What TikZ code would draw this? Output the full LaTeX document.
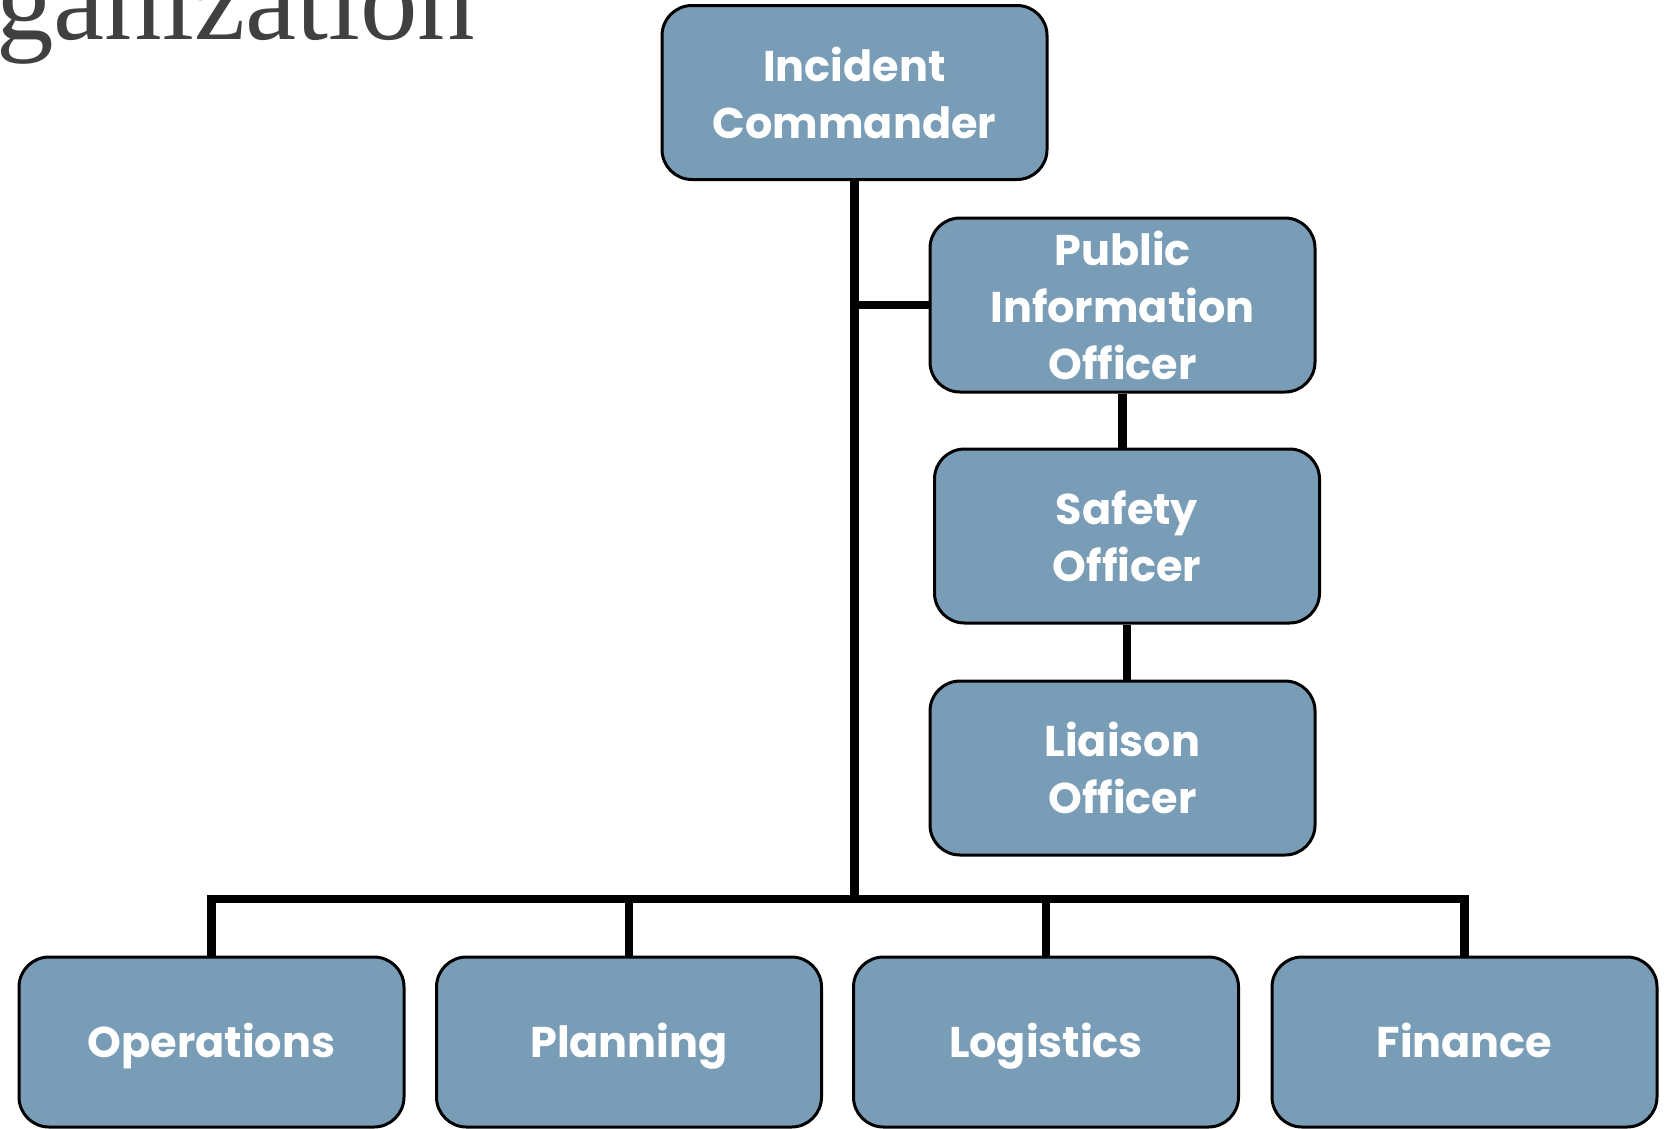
\documentclass[tikz,border=0pt]{standalone}
\usepackage{fontspec}
\newfontfamily\boxfont{Poppins}
\newfontfamily\titlefont{Liberation Serif}
\definecolor{boxblue}{HTML}{7A9DB7}
\definecolor{titlegray}{HTML}{404040}
\begin{document}
\begin{tikzpicture}[x=1pt,y=-1pt,
  orgbox/.style={draw=black, line width=3pt, fill=boxblue, rounded corners=30pt,
    minimum width=385pt, minimum height=174pt, inner sep=0pt, align=center,
    text=white, font=\boxfont\bfseries\fontsize{43}{57}\selectfont},
  lowbox/.style={orgbox, minimum height=170pt, text height=31pt, text depth=0pt},
  link/.style={draw=black, line width=8.5pt, line join=miter}]
\useasboundingbox (0,0) rectangle (1668,1128);
\clip (0,0) rectangle (1668,1128);
\node[anchor=base west, inner sep=0pt, text=titlegray, font=\titlefont\fontsize{115}{120}\selectfont] (title) at (-4,39) {ganization};
\node[orgbox] (ic) at (854.5,92.5) {Incident\\Commander};
\node[orgbox] (pio) at (1122.5,305) {Public\\Information\\Officer};
\node[orgbox] (saf) at (1127,536) {Safety\\Officer};
\node[orgbox] (lia) at (1122.5,768) {Liaison\\Officer};
\node[lowbox] (ops) at (211.5,1042) {Operations};
\node[lowbox] (pla) at (629,1042) {Planning};
\node[lowbox] (log) at (1046,1042) {Logistics};
\node[lowbox] (fin) at (1464.5,1042) {Finance};
\coordinate (bus) at (854.5,899);
\draw[link] (ic.south) -- (ic.south |- bus);
\draw[link] (ops.north) -- (ops.north |- bus) -- (fin.north |- bus) -- (fin.north);
\draw[link] (pla.north) -- (pla.north |- bus);
\draw[link] (log.north) -- (log.north |- bus);
\draw[link] (ic.south |- pio.west) -- (pio.west);
\draw[link] (pio.south) -- (pio.south |- saf.north);
\draw[link] (saf.south) -- (saf.south |- lia.north);
\end{tikzpicture}
\end{document}
